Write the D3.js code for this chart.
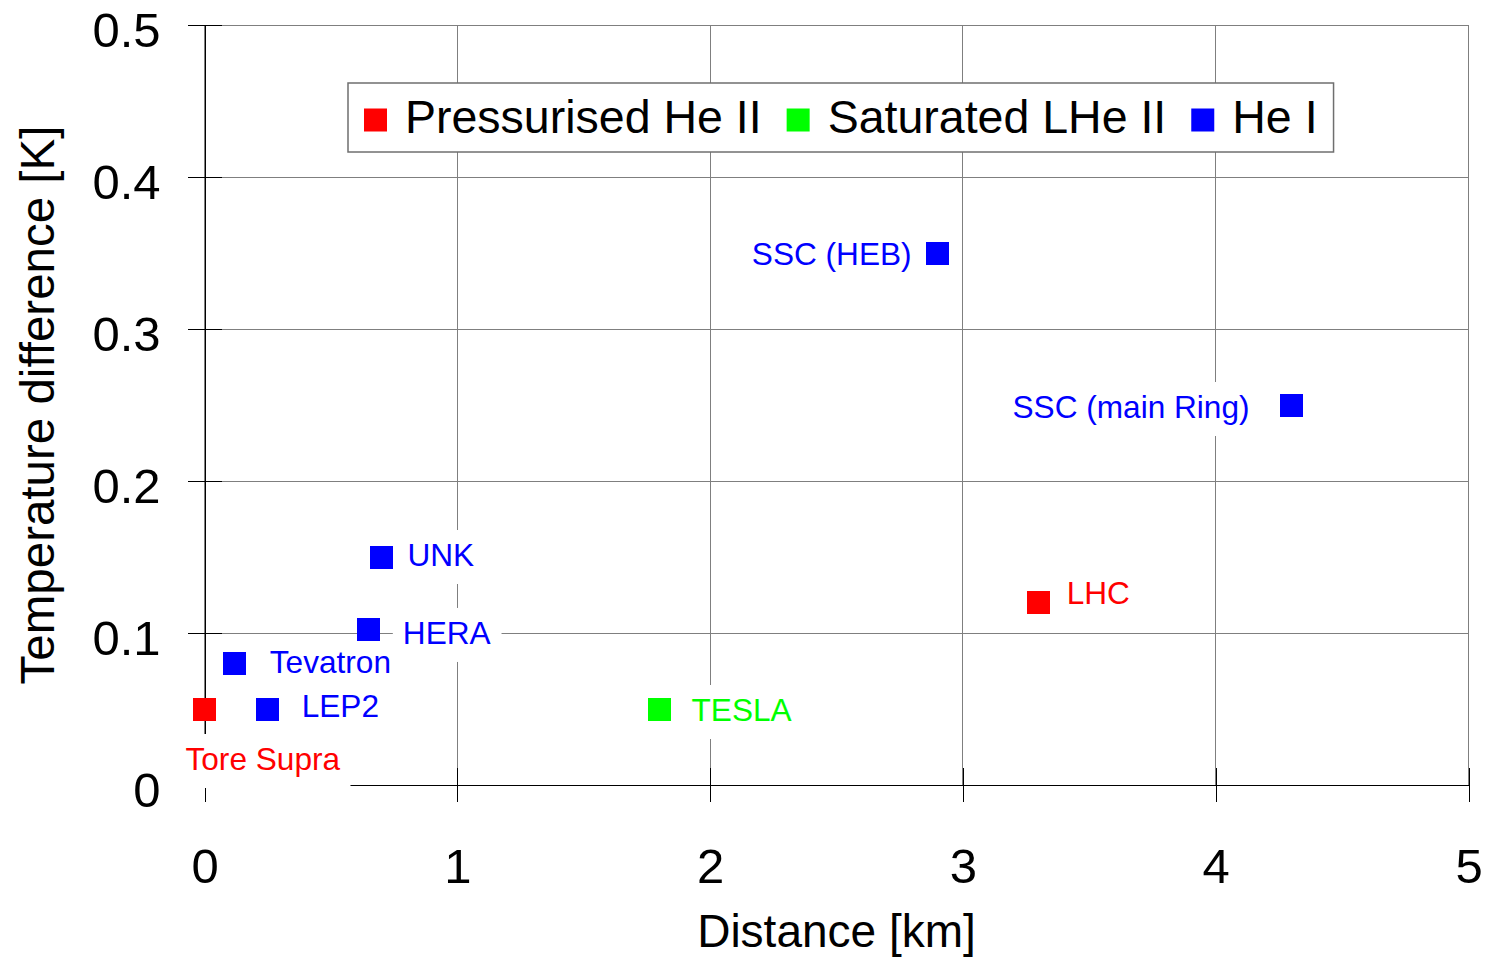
<!DOCTYPE html>
<html>
<head>
<meta charset="utf-8">
<script src="https://cdn.jsdelivr.net/npm/d3@7"></script>
<style>
  body { margin: 0; background: #fff; }
  svg { display: block; font-family: "Liberation Sans", Arial, sans-serif; }
</style>
</head>
<body>
<div id="chart-area"></div>
<script>
// ---- data ----
var machines   = ["Tore Supra", "LEP2", "Tevatron", "HERA", "UNK", "TESLA", "LHC", "SSC (HEB)", "SSC (main Ring)"];
var distanceKm = [0, 0.25, 0.12, 0.65, 0.7, 1.8, 3.3, 2.9, 4.3];
var tempDiffK  = [0.05, 0.05, 0.08, 0.102, 0.15, 0.05, 0.12, 0.35, 0.25];
var coolant    = ["Pressurised He II", "He I", "He I", "He I", "He I", "Saturated LHe II", "Pressurised He II", "He I", "He I"];

var coolantTypes  = ["Pressurised He II", "Saturated LHe II", "He I"];
var coolantColors = ["#ff0000", "#00ff00", "#0000ff"];

var xTicks = [0, 1, 2, 3, 4, 5];
var yTicks = [0, 0.1, 0.2, 0.3, 0.4, 0.5];
var yTickLabels = ["0", "0.1", "0.2", "0.3", "0.4", "0.5"];

// where each label sits relative to its marker (px)
var labelPlace = {
    "Tore Supra":      { dx: -19, dy: 61, anchor: "start" },
    "LEP2":            { dx: 34,  dy: 8,  anchor: "start" },
    "Tevatron":        { dx: 35,  dy: 10, anchor: "start" },
    "HERA":            { dx: 34,  dy: 14, anchor: "start" },
    "UNK":             { dx: 26,  dy: 9,  anchor: "start" },
    "TESLA":           { dx: 32,  dy: 12, anchor: "start" },
    "LHC":             { dx: 28,  dy: 1,  anchor: "start" },
    "SSC (HEB)":       { dx: -26, dy: 12, anchor: "end" },
    "SSC (main Ring)": { dx: -42, dy: 13, anchor: "end" }
};

var points = machines.map(function(m, i) {
    return { name: m, x: distanceKm[i], y: tempDiffK[i], type: coolant[i] };
});

// ---- layout ----
var W = 1490, H = 959;
var plot = { left: 204.5, right: 1468.5, top: 25, bottom: 785 };
var tick = 17, sq = 23;

var svg = d3.select("#chart-area").append("svg")
    .attr("width", W).attr("height", H);
svg.append("rect").attr("width", W).attr("height", H).attr("fill", "#fff");

var x = d3.scaleLinear().domain([0, 5]).range([plot.left, plot.right]);
var y = d3.scaleLinear().domain([0, 0.5]).range([plot.bottom, plot.top]);
var color = d3.scaleOrdinal().domain(coolantTypes).range(coolantColors);

// gridlines
var grid = svg.append("g").attr("shape-rendering", "crispEdges")
    .attr("stroke", "#7f7f7f").attr("stroke-width", 1);
grid.selectAll(".vg").data(xTicks).enter().append("line")
    .attr("x1", function(d) { return x(d); }).attr("x2", function(d) { return x(d); })
    .attr("y1", plot.top).attr("y2", plot.bottom);
grid.selectAll(".hg").data(yTicks).enter().append("line")
    .attr("x1", plot.left).attr("x2", plot.right)
    .attr("y1", function(d) { return y(d); }).attr("y2", function(d) { return y(d); });

// axes
var xAxisCall = d3.axisBottom(x).tickValues(xTicks).tickFormat(d3.format("d"))
    .tickSizeInner(tick).tickSizeOuter(0).tickPadding(46);
var yAxisCall = d3.axisLeft(y).tickValues(yTicks)
    .tickFormat(function(d, i) { return yTickLabels[i]; })
    .tickSizeInner(tick).tickSizeOuter(0).tickPadding(27);

var xAxis = svg.append("g").attr("class", "x axis")
    .attr("transform", "translate(0," + plot.bottom + ")")
    .call(xAxisCall);
var yAxis = svg.append("g").attr("class", "y axis")
    .attr("transform", "translate(" + plot.left + ",0)")
    .call(yAxisCall);

[xAxis, yAxis].forEach(function(a) {
    a.attr("font-family", null).attr("font-size", 49).attr("shape-rendering", "crispEdges");
    a.select(".domain").attr("stroke", "#000");
    a.selectAll(".tick line").attr("stroke", "#000");
    a.selectAll(".tick text").attr("fill", "#000");
});
// ticks cross the axis line
xAxis.selectAll(".tick line").attr("y1", -tick);
yAxis.selectAll(".tick line").attr("x1", tick);
yAxis.selectAll(".tick text").attr("dy", "0.43em");

// axis titles
svg.append("text")
    .attr("x", (plot.left + plot.right) / 2).attr("y", 947)
    .attr("text-anchor", "middle").attr("font-size", 46)
    .text("Distance [km]");
svg.append("text")
    .attr("transform", "translate(54," + ((plot.top + plot.bottom) / 2) + ") rotate(-90)")
    .attr("text-anchor", "middle").attr("font-size", 47.5)
    .text("Temperature difference [K]");

// point labels (white boxes behind them hide the grid)
var labels = svg.append("g").attr("font-size", 31.6);
var labelG = labels.selectAll(".lbl").data(points).enter().append("g").attr("class", "lbl");
labelG.append("rect").attr("fill", "#fff");
labelG.append("text")
    .attr("x", function(d) { return x(d.x) + labelPlace[d.name].dx; })
    .attr("y", function(d) { return y(d.y) + labelPlace[d.name].dy; })
    .attr("text-anchor", function(d) { return labelPlace[d.name].anchor; })
    .attr("fill", function(d) { return color(d.type); })
    .text(function(d) { return d.name; });
labelG.each(function() {
    var g = d3.select(this);
    var b = g.select("text").node().getBBox();
    g.select("rect")
        .attr("x", b.x - 10).attr("y", b.y - 7)
        .attr("width", b.width + 20).attr("height", b.height + 18);
});

// markers
svg.append("g").attr("shape-rendering", "crispEdges")
    .selectAll(".pt").data(points).enter().append("rect")
    .attr("x", function(d) { return x(d.x) - sq / 2; })
    .attr("y", function(d) { return y(d.y) - sq / 2; })
    .attr("width", sq).attr("height", sq)
    .attr("fill", function(d) { return color(d.type); });

// legend
var legend = svg.append("g");
var legBox = legend.append("rect")
    .attr("fill", "#fff").attr("stroke", "#6f6f6f").attr("stroke-width", 1.5);
var lx = 364, ly = 120;
coolantTypes.forEach(function(t) {
    legend.append("rect")
        .attr("x", lx).attr("y", ly - sq / 2).attr("width", sq).attr("height", sq)
        .attr("fill", color(t));
    var txt = legend.append("text")
        .attr("x", lx + sq + 18).attr("y", ly + 13)
        .attr("font-size", 46.5).attr("fill", "#000")
        .text(t);
    lx = lx + sq + 18 + txt.node().getComputedTextLength() + 25;
});
legBox.attr("x", 348).attr("y", 83).attr("width", lx - 25 + 16 - 348).attr("height", 69);
</script>
</body>
</html>
